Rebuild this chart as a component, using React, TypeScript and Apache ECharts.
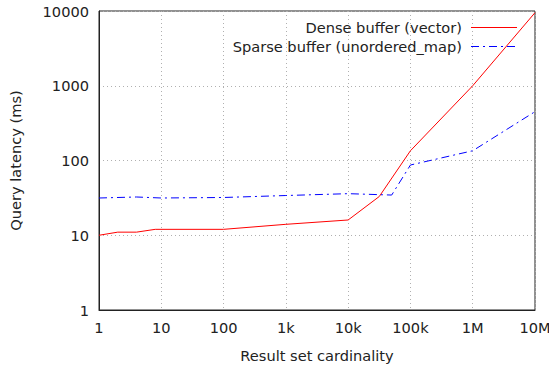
import React, { useEffect, useRef } from "react";
import * as echarts from "echarts";

const xTickValues = [1, 10, 100, 1000, 10000, 100000, 1000000, 10000000];
const xTickLabels = ["1", "10", "100", "1k", "10k", "100k", "1M", "10M"];

const denseX = [1, 2, 4, 8, 100, 1000, 10000, 31623, 100000, 1000000, 10000000];
const denseY = [10, 11, 11, 12, 12, 14, 16, 33, 135, 1000, 9500];

const sparseX = [1, 4, 10, 100, 1000, 10000, 50000, 100000, 1000000, 10000000];
const sparseY = [31.5, 32.5, 31.5, 32, 34, 36, 34.5, 87, 135, 450];

const seriesNames = ["Dense buffer (vector)", "Sparse buffer (unordered_map)"];

const FONT = "DejaVu Sans";
const FS = 14.6;
const RED = "#ff0000";
const BLUE = "#0000ff";
const BLUE_DASH = [8, 4, 2, 4];

export default function App() {
  const ref = useRef<HTMLDivElement>(null);
  useEffect(() => {
    if (!ref.current) return;
    const chart = echarts.init(ref.current, undefined, { renderer: "svg" });
    const fmtX = (v: number) => {
      const i = xTickValues.findIndex((t) => Math.abs(Math.log10(t) - Math.log10(v)) < 1e-6);
      return i >= 0 ? xTickLabels[i] : "";
    };
    const fmtY = (v: number) => String(Math.round(v));
    const legendRows = [
      { name: seriesNames[0], y: 27, color: RED, dash: null as any },
      { name: seriesNames[1], y: 46, color: BLUE, dash: BLUE_DASH },
    ];
    const graphic: any[] = [];
    legendRows.forEach((r) => {
      graphic.push({
        type: "text",
        x: 462,
        y: r.y,
        style: {
          text: r.name,
          fontFamily: FONT,
          fontSize: FS,
          fill: "#222",
          align: "right",
          verticalAlign: "middle",
        },
        z: 10,
      });
      graphic.push({
        type: "line",
        shape: { x1: 471, y1: r.y + 0.5, x2: 517, y2: r.y + 0.5 },
        style: { stroke: r.color, lineWidth: 1, lineDash: r.dash || undefined },
        z: 10,
      });
    });
    chart.setOption({
      animation: false,
      backgroundColor: "#fff",
      textStyle: { fontFamily: FONT },
      grid: {
        left: 99,
        right: 14,
        top: 11,
        bottom: 56,
        show: true,
        borderColor: "#222",
        borderWidth: 1,
        backgroundColor: "transparent",
        containLabel: false,
        outerBoundsMode: "none",
      },
      graphic,
      xAxis: {
        type: "log",
        logBase: 10,
        min: 1,
        max: 10000000,
        splitNumber: 7,
        name: "Result set cardinality",
        nameLocation: "middle",
        nameGap: 38,
        nameTextStyle: { fontFamily: FONT, fontSize: FS, color: "#222" },
        axisLine: { show: true, lineStyle: { color: "#222", width: 1 } },
        axisTick: { show: false },
        axisLabel: { formatter: fmtX, fontFamily: FONT, fontSize: FS, color: "#222", margin: 10, hideOverlap: false },
        splitLine: { show: true, lineStyle: { color: "#b0b0b0", type: [1, 3], width: 1 } },
        minorTick: { show: false },
      },
      yAxis: {
        type: "log",
        logBase: 10,
        min: 1,
        max: 10000,
        splitNumber: 4,
        name: "Query latency (ms)",
        nameLocation: "middle",
        nameGap: 76,
        nameTextStyle: { fontFamily: FONT, fontSize: FS, color: "#222" },
        axisLine: { show: true, lineStyle: { color: "#222", width: 1 } },
        axisTick: { show: false },
        axisLabel: { formatter: fmtY, fontFamily: FONT, fontSize: FS, color: "#222", margin: 10 },
        splitLine: { show: true, lineStyle: { color: "#b0b0b0", type: [1, 3], width: 1 } },
      },
      series: [
        {
          name: seriesNames[0],
          type: "line",
          symbol: "none",
          color: RED,
          lineStyle: { color: RED, width: 1 },
          data: denseX.map((x, i) => [x, denseY[i]]),
        },
        {
          name: seriesNames[1],
          type: "line",
          symbol: "none",
          color: BLUE,
          lineStyle: { color: BLUE, width: 1, type: BLUE_DASH },
          data: sparseX.map((x, i) => [x, sparseY[i]]),
        },
      ],
    });
    return () => chart.dispose();
  }, []);
  return <div ref={ref} style={{ width: 549, height: 366, position: "absolute", left: 0, top: 0 }} />;
}
